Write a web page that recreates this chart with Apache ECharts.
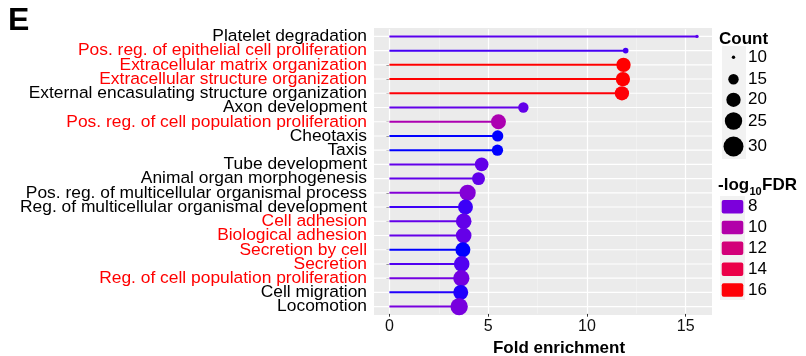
<!DOCTYPE html>
<html><head><meta charset="utf-8">
<script src="https://cdn.jsdelivr.net/npm/echarts@6/dist/echarts.min.js"></script>
<style>html,body{margin:0;padding:0;background:#fff}#c{width:806px;height:356px}</style>
</head><body><div id="c"></div>
<script>
// ---- data ----
const categories = [
  'Platelet degradation',
  'Pos. reg. of epithelial cell proliferation',
  'Extracellular matrix organization',
  'Extracellular structure organization',
  'External encasulating structure organization',
  'Axon development',
  'Pos. reg. of cell population proliferation',
  'Cheotaxis',
  'Taxis',
  'Tube development',
  'Animal organ morphogenesis',
  'Pos. reg. of multicellular organismal process',
  'Reg. of multicellular organismal development',
  'Cell adhesion',
  'Biological adhesion',
  'Secretion by cell',
  'Secretion',
  'Reg. of cell population proliferation',
  'Cell migration',
  'Locomotion'
];
const foldEnrichment = [15.57, 11.96, 11.85, 11.82, 11.77, 6.78, 5.52, 5.48, 5.47, 4.67, 4.51, 3.96, 3.85, 3.76, 3.76, 3.72, 3.66, 3.64, 3.61, 3.53];
const geneCount      = [10, 11, 20, 20, 20, 15, 21, 16, 16, 19, 18, 23, 21, 22, 22, 21, 22, 23, 21, 25];
const negLog10FDR    = [7.3, 7.0, 16.1, 16.1, 16.0, 7.45, 9.7, 6.6, 6.6, 7.45, 7.4, 8.2, 6.9, 7.45, 7.5, 6.6, 7.15, 7.8, 6.7, 7.9];
const highlighted    = [false, true, true, true, false, false, true, false, false, false, false, false, false, true, true, true, true, true, false, false];
const xTicks = [0, 5, 10, 15];
const xMinorTicks = [2.5, 7.5, 12.5];
const countLegend = [10, 15, 20, 25, 30];
const fdrLegend = [8, 10, 12, 14, 16];

// ---- colour scale (ggplot-like gradient blue -> red in Lab) ----
function toLin(c){ c/=255; return c<=0.04045 ? c/12.92 : Math.pow((c+0.055)/1.055, 2.4); }
function fromLin(c){ c = c<=0.0031308 ? 12.92*c : 1.055*Math.pow(c,1/2.4)-0.055; return Math.round(Math.max(0,Math.min(1,c))*255); }
const WX=0.95047, WY=1.0, WZ=1.08883;
function rgbToLab(rgb){
  const r=toLin(rgb[0]), g=toLin(rgb[1]), b=toLin(rgb[2]);
  const X=(0.4124*r+0.3576*g+0.1805*b)/WX, Y=(0.2126*r+0.7152*g+0.0722*b)/WY, Z=(0.0193*r+0.1192*g+0.9505*b)/WZ;
  const f=t=> t>0.008856 ? Math.cbrt(t) : 7.787*t+16/116;
  const fx=f(X), fy=f(Y), fz=f(Z);
  return [116*fy-16, 500*(fx-fy), 200*(fy-fz)];
}
function labToRgb(lab){
  const fy=(lab[0]+16)/116, fx=fy+lab[1]/500, fz=fy-lab[2]/200;
  const fi=t=> t*t*t>0.008856 ? t*t*t : (t-16/116)/7.787;
  const X=fi(fx)*WX, Y=fi(fy)*WY, Z=fi(fz)*WZ;
  const r= 3.2406*X-1.5372*Y-0.4986*Z, g=-0.9689*X+1.8758*Y+0.0415*Z, b=0.0557*X-0.2040*Y+1.0570*Z;
  return 'rgb('+fromLin(r)+','+fromLin(g)+','+fromLin(b)+')';
}
const lowLab = rgbToLab([0,0,255]), highLab = rgbToLab([255,0,0]);
const fdrMin = Math.min(...negLog10FDR), fdrMax = Math.max(...negLog10FDR);
function colourFor(f){
  const t = Math.max(0, Math.min(1, (f-fdrMin)/(fdrMax-fdrMin)));
  return labToRgb([0,1,2].map(k=> lowLab[k]+(highLab[k]-lowLab[k])*t));
}
function sizeFor(c){ return 4.4*Math.sqrt(Math.max(c-9.4, 0)); }

const colours = negLog10FDR.map(colourFor);
const FONT = '"Liberation Sans", Arial, Helvetica, sans-serif';
const LABEL_SIZE = 17.4;

// ---- legends (graphic) ----
const legendEls = [];
legendEls.push({type:'rect', shape:{x:374,y:28,width:338,height:287}, style:{fill:'#EBEBEB'}, silent:true, z:-10});
legendEls.push({type:'text', x:8, y:21.5, style:{text:'E', font:'bold 32px '+FONT, fill:'#000', verticalAlign:'middle'}});
legendEls.push({type:'text', x:719, y:39, style:{text:'Count', font:'bold 17px '+FONT, fill:'#000', verticalAlign:'middle'}});
legendEls.push({type:'rect', shape:{x:722,y:46,width:24,height:113}, style:{fill:'#F2F2F2'}, silent:true});
const countKeyY = [57.3, 79.3, 99.8, 121, 146.5];
countLegend.forEach((c,i)=>{
  legendEls.push({type:'circle', shape:{cx:733.5, cy:countKeyY[i], r:sizeFor(c)/2}, style:{fill:'#000'}});
  legendEls.push({type:'text', x:748, y:countKeyY[i], style:{text:String(c), font:'17px '+FONT, fill:'#000', verticalAlign:'middle'}});
});
legendEls.push({type:'text', x:718, y:185, style:{text:'-log', font:'bold 17px '+FONT, fill:'#000', verticalAlign:'middle'}});
legendEls.push({type:'text', x:749.5, y:191.5, style:{text:'10', font:'bold 11px '+FONT, fill:'#000', verticalAlign:'middle'}});
legendEls.push({type:'text', x:762, y:185, style:{text:'FDR', font:'bold 17px '+FONT, fill:'#000', verticalAlign:'middle'}});
legendEls.push({type:'rect', shape:{x:720,y:196,width:25,height:104}, style:{fill:'#F2F2F2'}, silent:true});
const fdrKeyY = [206.7, 227.5, 248.3, 269.2, 290];
fdrLegend.forEach((f,i)=>{
  legendEls.push({type:'rect', shape:{x:721.7, y:fdrKeyY[i]-6.8, width:21.6, height:13.6, r:2}, style:{fill:colourFor(f)}});
  legendEls.push({type:'text', x:748, y:fdrKeyY[i], style:{text:String(f), font:'17px '+FONT, fill:'#000', verticalAlign:'middle'}});
});

const chart = echarts.init(document.getElementById('c'), null, {renderer:'canvas'});
chart.setOption({
  animation:false,
  textStyle:{fontFamily:FONT},
  grid:[{left:374, top:29.3, width:338, height:284.4, containLabel:false, outerBoundsMode:'none'}],
  xAxis:[{
    type:'value', min:-0.78, max:16.33,
    name:'Fold enrichment', nameLocation:'middle', nameGap:23,
    nameTextStyle:{fontFamily:FONT, fontSize:17, fontWeight:'bold', color:'#000', padding:[0,0,0,32]},
    axisLine:{show:false},
    axisTick:{show:true, customValues:xTicks, length:3, lineStyle:{color:'#333', width:1}},
    axisLabel:{customValues:xTicks, fontSize:16, color:'#111', margin:5, fontFamily:FONT},
    splitLine:{show:false}
  }],
  yAxis:[{
    type:'category', data:categories, inverse:true,
    axisLine:{show:false},
    axisTick:{show:true, alignWithLabel:true, interval:0, length:3, lineStyle:{color:'#333', width:1}},
    axisLabel:{
      interval:0, hideOverlap:false,
      fontSize:LABEL_SIZE, margin:7, fontFamily:FONT, color:'#000',
      formatter:(v, i)=> (highlighted[i] ? '{r|' : '{k|') + v + '}',
      rich:{r:{color:'#ff0000', fontSize:LABEL_SIZE, fontFamily:FONT}, k:{color:'#000', fontSize:LABEL_SIZE, fontFamily:FONT}}
    },
    splitLine:{show:false}
  },{
    type:'category', data:categories, inverse:true, show:false
  }],
  series:[
    {
      name:'rowGrid', type:'bar', yAxisIndex:1, z:1, silent:true,
      data:foldEnrichment, barWidth:1.1,
      itemStyle:{color:'rgba(0,0,0,0)'},
      showBackground:true, backgroundStyle:{color:'#ffffff', opacity:1},
      markLine:{
        silent:true, z:1, symbol:['none','none'], label:{show:false},
        lineStyle:{color:'#ffffff', type:'solid', width:1.2},
        data: xTicks.map(v=>({xAxis:v}))
          .concat(xMinorTicks.map(v=>({xAxis:v, lineStyle:{color:'#F5F5F5', width:0.6, type:'solid'}})))
      }
    },
    {
      name:'stick', type:'bar', yAxisIndex:0, z:2, silent:true, barWidth:2,
      data: foldEnrichment.map((v,i)=>({value:v, itemStyle:{color:colours[i]}}))
    },
    {
      name:'dot', type:'scatter', yAxisIndex:0, z:3, silent:true,
      data: foldEnrichment.map((v,i)=>({value:[v, i], symbolSize:sizeFor(geneCount[i]), itemStyle:{color:colours[i], opacity:1}}))
    }
  ],
  graphic:{elements:legendEls}
});
</script>
</body></html>
